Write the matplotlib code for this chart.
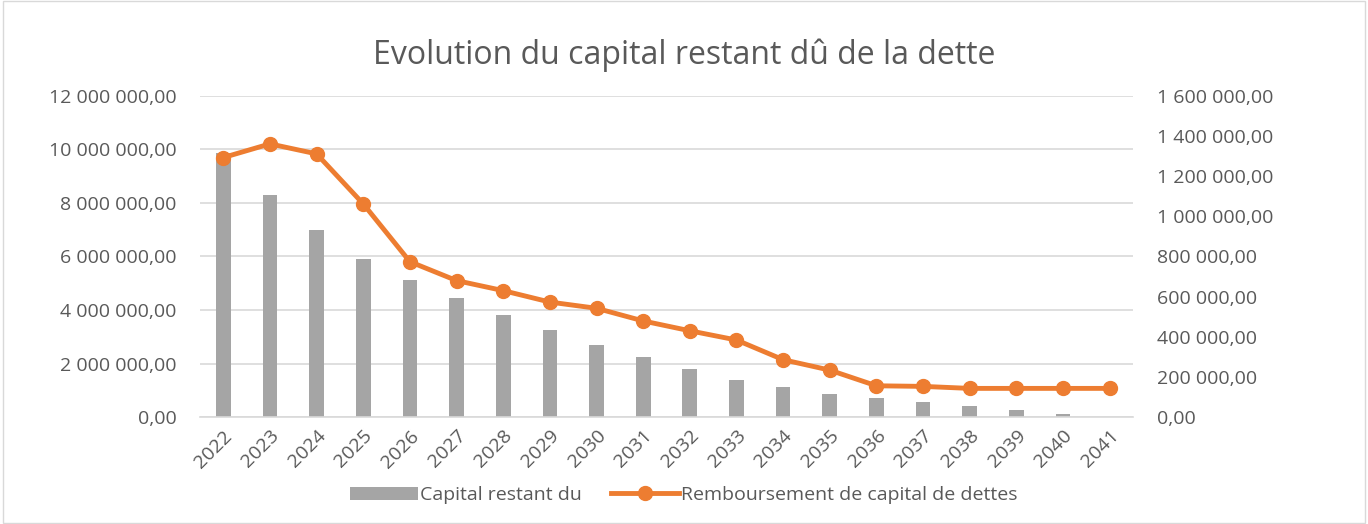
import numpy as np
import matplotlib.pyplot as plt
from matplotlib.ticker import FuncFormatter
from matplotlib.patches import Rectangle

years = [str(y) for y in range(2022, 2042)]
capital_restant = [9.85e6, 8.30e6, 6.99e6, 5.92e6, 5.13e6, 4.46e6, 3.82e6, 3.25e6, 2.69e6, 2.23e6,
                   1.78e6, 1.40e6, 1.12e6, 0.87e6, 0.71e6, 0.55e6, 0.41e6, 0.26e6, 0.11e6, 0.0]
remboursement = [1.293e6, 1.361e6, 1.311e6, 1.062e6, 0.774e6, 0.680e6, 0.630e6, 0.573e6, 0.542e6, 0.479e6,
                 0.430e6, 0.384e6, 0.286e6, 0.234e6, 0.156e6, 0.153e6, 0.143e6, 0.143e6, 0.143e6, 0.143e6]

plt.rcParams['font.family'] = ['Open Sans', 'DejaVu Sans']
txt = '#595959'
grid_c = '#d9d9d9'


def fr(v, pos=None):
    s = '{:,.2f}'.format(v)
    return s.replace(',', ' ').replace('.', ',')


fig = plt.figure(figsize=(13.68, 5.24), dpi=100)
fig.patches.append(Rectangle((0.002, 0.002), 0.996, 0.996, transform=fig.transFigure,
                             fill=False, edgecolor='#d9d9d9', linewidth=1))
ax = fig.add_axes([0.1462, 0.204, 0.682, 0.613])
x = np.arange(len(years))
bars = ax.bar(x, capital_restant, width=0.315, color='#a5a5a5', zorder=2, label='Capital restant du')
ax.set_ylim(0, 12e6)
ax.set_yticks(np.arange(0, 12e6 + 1, 2e6))
ax.yaxis.set_major_formatter(FuncFormatter(fr))
ax.set_xlim(-0.5, len(years) - 0.5)
ax.set_xticks(x)
ax.set_xticklabels(years, rotation=45, ha='right', rotation_mode='anchor')
ax.grid(axis='y', color=grid_c, linewidth=1.2, zorder=0)
for s in ['top', 'right', 'left']:
    ax.spines[s].set_visible(False)
ax.spines['bottom'].set_color(grid_c)
ax.spines['bottom'].set_linewidth(1.2)
ax.tick_params(length=0, colors=txt, labelsize=14, pad=17)
ax.tick_params(axis='x', pad=7)

ax2 = ax.twinx()
line, = ax2.plot(x, remboursement, color='#ed7d31', linewidth=3.5, marker='o', markersize=10,
                 zorder=3, label='Remboursement de capital de dettes')
ax2.set_ylim(0, 1.6e6)
ax2.set_yticks(np.arange(0, 1.6e6 + 1, 2e5))
ax2.yaxis.set_major_formatter(FuncFormatter(fr))
for s in ['top', 'right', 'left', 'bottom']:
    ax2.spines[s].set_visible(False)
ax2.tick_params(length=0, colors=txt, labelsize=14, pad=17)

fig.text(0.5, 0.895, 'Evolution du capital restant dû de la dette', ha='center', va='center',
         fontsize=23, color=txt)
fig.legend([bars, line], ['Capital restant du', 'Remboursement de capital de dettes'],
           loc='center', bbox_to_anchor=(0.5, 0.055), ncol=2, frameon=False,
           fontsize=14, labelcolor=txt, handlelength=3.5, columnspacing=1.5, handletextpad=0.1)

fig.savefig('out.png', dpi=100)
